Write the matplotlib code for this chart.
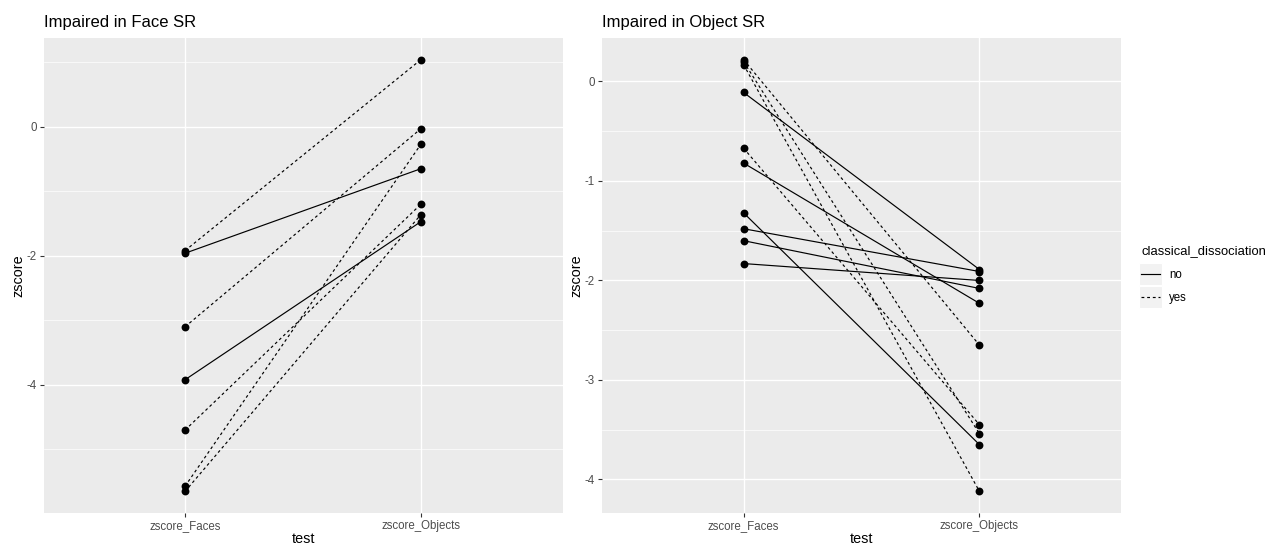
import matplotlib
matplotlib.use("Agg")
import matplotlib.pyplot as plt
from matplotlib.lines import Line2D
from matplotlib.patches import Rectangle
import numpy as np

plt.rcParams['font.family'] = ['Liberation Sans', 'DejaVu Sans']

tests = ["zscore_Faces", "zscore_Objects"]

# Panel 1: Impaired in Face SR
face_faces = [-1.92, -1.96, -3.10, -3.92, -4.70, -5.57, -5.65]
face_objects = [1.04, -0.65, -0.03, -1.47, -1.20, -0.27, -1.36]
face_diss = ["yes", "no", "yes", "no", "yes", "yes", "yes"]

# Panel 2: Impaired in Object SR
obj_faces = [0.22, 0.20, 0.17, -0.11, -0.67, -0.82, -1.32, -1.48, -1.60, -1.83]
obj_objects = [-2.65, -3.54, -4.12, -1.89, -3.45, -2.23, -3.65, -1.91, -2.08, -2.00]
obj_diss = ["yes", "yes", "yes", "no", "yes", "no", "no", "no", "no", "no"]

titles = ["Impaired in Face SR", "Impaired in Object SR"]
major_ticks = [[0, -2, -4], [0, -1, -2, -3, -4]]
minor_ticks = [[1, -1, -3, -5], [-0.5, -1.5, -2.5, -3.5]]

W, H = 1287, 544
fig = plt.figure(figsize=(W / 100, H / 100), dpi=100)
fig.patch.set_facecolor("white")

panel_bg = "#EBEBEB"
dash_style = (0, (2.4, 2.4))

def px(x0, y0, x1, y1):
    return [x0 / W, 1 - y1 / H, (x1 - x0) / W, (y1 - y0) / H]

axes = [fig.add_axes(px(43.5, 38, 562.5, 513)), fig.add_axes(px(602, 38, 1121, 513))]
datasets = [(face_faces, face_objects, face_diss), (obj_faces, obj_objects, obj_diss)]

for i, (ax, (fv, ov, dv)) in enumerate(zip(axes, datasets)):
    ax.set_facecolor(panel_bg)
    for s in ax.spines.values():
        s.set_visible(False)
    xs = np.arange(len(tests))
    for f, o, d in zip(fv, ov, dv):
        ls = "-" if d == "no" else dash_style
        ax.plot(xs, [f, o], color="black", lw=0.85, ls=ls, zorder=3)
        ax.scatter(xs, [f, o], s=32, color="black", zorder=4, linewidths=0)
    allv = np.array(fv + ov)
    lo, hi = allv.min(), allv.max()
    r = hi - lo
    ax.set_ylim(lo - 0.05 * r, hi + 0.05 * r)
    ax.set_xlim(-0.6, 1.6)
    ax.set_xticks(xs)
    ax.set_xticklabels(tests)
    ax.set_yticks(major_ticks[i])
    ax.set_yticklabels([str(t) for t in major_ticks[i]])
    ax.set_yticks(minor_ticks[i], minor=True)
    ax.grid(True, which="major", color="white", lw=1.0, zorder=1)
    ax.grid(True, which="minor", axis="y", color="white", lw=0.5, zorder=1)
    ax.set_axisbelow(True)
    ax.tick_params(axis="both", which="major", length=3, width=0.8, color="#333333",
                   labelsize=8.3, labelcolor="#4D4D4D", pad=2)
    ax.tick_params(axis="y", which="minor", length=0)
    ax.set_xlabel("test", fontsize=10.4, color="black", labelpad=0)
    ax.set_ylabel("zscore", fontsize=10.4, color="black", labelpad=1)
    ax.set_title(titles[i], loc="left", fontsize=12.0, color="black", pad=8)

# Legend
handles = [Line2D([0], [0], color="black", lw=0.85, ls="-"),
           Line2D([0], [0], color="black", lw=0.85, ls=dash_style)]
leg = fig.legend(handles, ["no", "yes"], title="classical_dissociation",
                 loc="upper left", bbox_to_anchor=(1132 / W, 1 - 236 / H),
                 frameon=False, fontsize=8.3, title_fontsize=9.4,
                 handlelength=1.65, handletextpad=0.8, labelspacing=1.0,
                 borderpad=0.3, alignment="left")

# grey key backgrounds behind legend keys
fig.canvas.draw()
renderer = fig.canvas.get_renderer()
for h in leg.legend_handles:
    bb = h.get_window_extent(renderer)
    cy = (bb.y0 + bb.y1) / 2
    kh = 22
    fig.patches.append(Rectangle(((bb.x0 - 2) / W, (cy - kh / 2) / H), (bb.width + 4) / W, kh / H,
                                 transform=fig.transFigure, facecolor="#F2F2F2",
                                 edgecolor="white", lw=0.8, zorder=0))

fig.savefig("out.png", dpi=100)
